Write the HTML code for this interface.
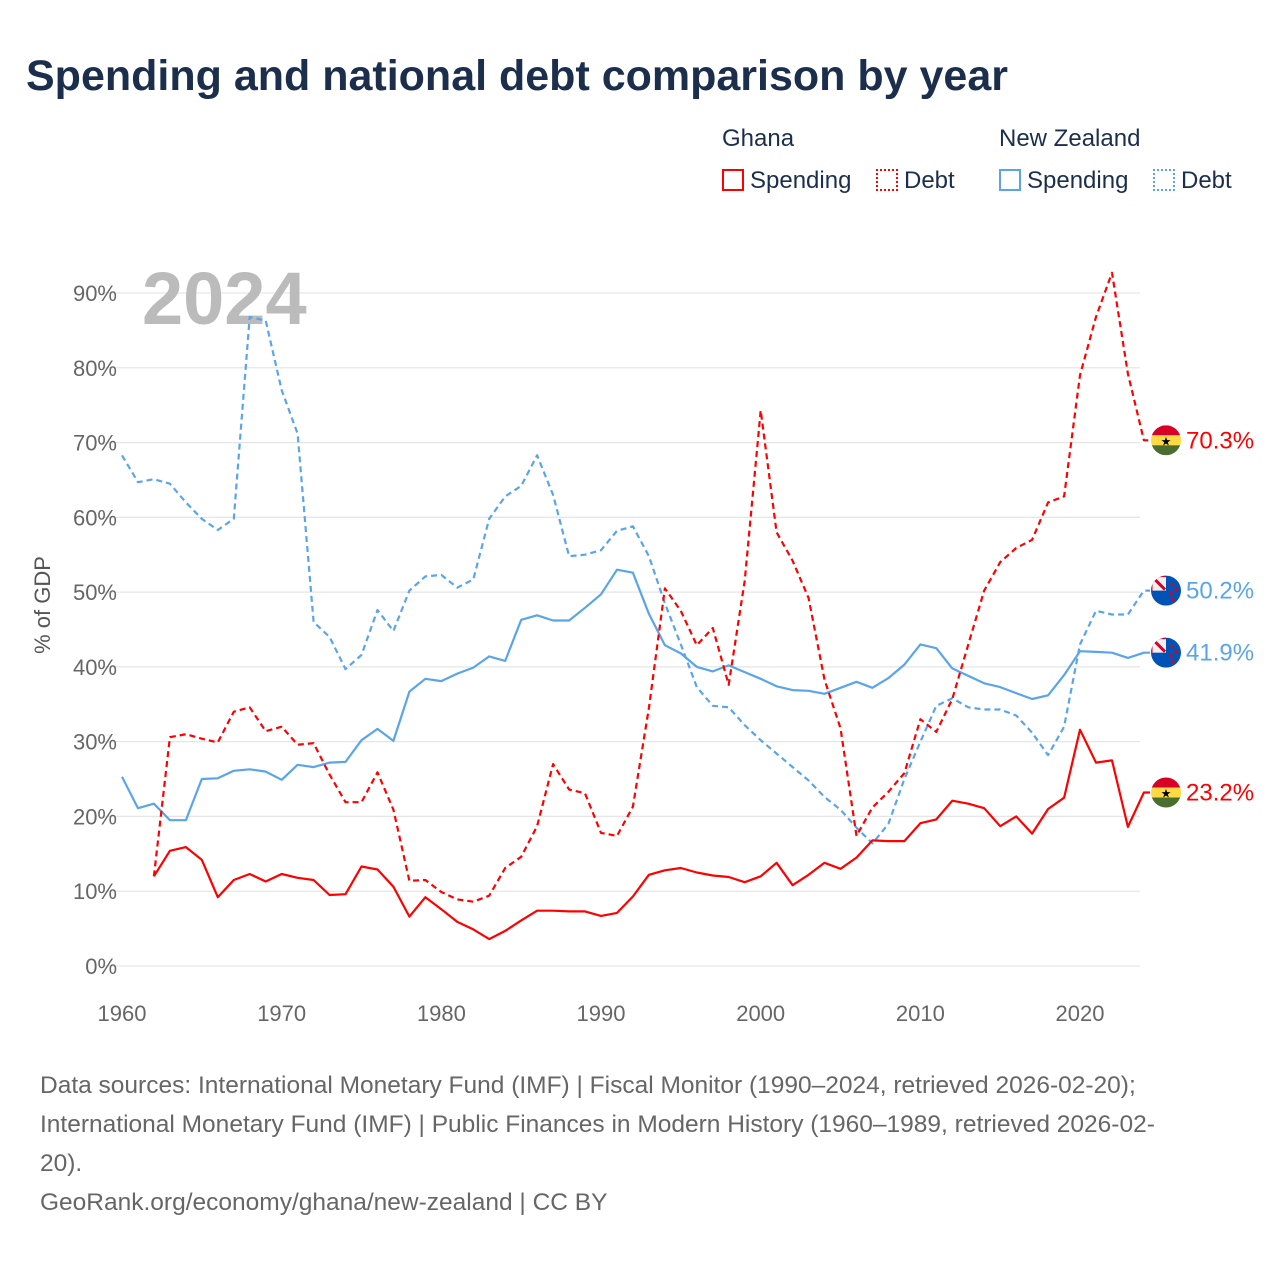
<!DOCTYPE html>
<html><head><meta charset="utf-8"><style>
body{margin:0;background:#fff;font-family:"Liberation Sans",sans-serif;}
#wrap{position:relative;width:1280px;height:1280px;overflow:hidden;}
.t{position:absolute;white-space:nowrap;}
</style></head><body>
<div id="wrap">
<div class="t" style="left:26px;top:52px;font-size:43px;font-weight:bold;color:#1b2f4d;">Spending and national debt comparison by year</div>
<div class="t" style="left:722px;top:125px;font-size:24px;color:#1b2f4d;">Ghana</div>
<div class="t" style="left:999px;top:125px;font-size:24px;color:#1b2f4d;">New Zealand</div>
<div class="t" style="left:722px;top:167px;font-size:24px;color:#1b2f4d;"><span style="display:inline-block;width:22px;height:22px;border:2px solid #f00;box-sizing:border-box;vertical-align:-3px;margin-right:6px"></span>Spending</div>
<div class="t" style="left:876px;top:167px;font-size:24px;color:#1b2f4d;"><span style="display:inline-block;width:22px;height:22px;border:2px dotted #f00;box-sizing:border-box;vertical-align:-3px;margin-right:6px"></span>Debt</div>
<div class="t" style="left:999px;top:167px;font-size:24px;color:#1b2f4d;"><span style="display:inline-block;width:22px;height:22px;border:2px solid #5aa5ea;box-sizing:border-box;vertical-align:-3px;margin-right:6px"></span>Spending</div>
<div class="t" style="left:1153px;top:167px;font-size:24px;color:#1b2f4d;"><span style="display:inline-block;width:22px;height:22px;border:2px dotted #5aa5ea;box-sizing:border-box;vertical-align:-3px;margin-right:6px"></span>Debt</div>
<svg id="chart" width="1280" height="1280" style="position:absolute;left:0;top:0"></svg>
<div class="t" style="left:40px;top:1066px;font-size:24.5px;line-height:39px;color:#666;">Data sources: International Monetary Fund (IMF) | Fiscal Monitor (1990–2024, retrieved 2026-02-20);<br>International Monetary Fund (IMF) | Public Finances in Modern History (1960–1989, retrieved 2026-02-<br>20).<br>GeoRank.org/economy/ghana/new-zealand | CC BY</div>
</div>
<script>
const yTicks=[0,10,20,30,40,50,60,70,80,90];
const xTicks=[1960,1970,1980,1990,2000,2010,2020];
const nzDebtStart=1960;
const nzDebt=[68.3,64.7,65.1,64.5,62,59.8,58.3,59.8,86.8,86.3,77,71.2,46,44,39.7,41.6,47.6,44.8,50.2,52.1,52.3,50.6,51.7,59.8,62.8,64.2,68.3,63,54.8,55,55.6,58.2,58.8,54.8,48.5,43,37.3,34.8,34.6,32.2,30.2,28.4,26.6,24.8,22.6,20.9,18.5,16.4,19,25,30,34.8,35.8,34.6,34.3,34.3,33.5,31.2,28.2,32,43,47.5,47,47,50.2];
const nzSpend=[25.3,21.1,21.7,19.5,19.5,25,25.1,26.1,26.3,26,24.9,26.9,26.6,27.2,27.3,30.2,31.7,30.1,36.7,38.4,38.1,39.1,39.9,41.4,40.8,46.3,46.9,46.2,46.2,47.9,49.7,53,52.6,47.1,42.9,41.8,40,39.4,40.2,39.3,38.4,37.4,36.9,36.8,36.4,37.2,38,37.2,38.5,40.3,43,42.5,39.8,38.8,37.8,37.3,36.5,35.7,36.2,38.9,42.1,42,41.9,41.2,41.9];
const ghStart=1962;
const ghDebt=[12,30.6,31,30.4,29.9,34,34.6,31.4,32,29.6,29.8,25.6,21.9,21.9,25.9,20.9,11.4,11.5,9.9,8.9,8.6,9.4,13.1,14.6,18.7,27,23.6,23.1,17.8,17.4,21.3,34.5,50.5,47.5,42.9,45.2,37.6,51.5,74.3,58,54.2,49.2,38.3,31.8,17.4,21.2,23.3,25.8,33,31.3,35.7,43,50.2,54,55.9,57,62,62.8,79,86.8,92.7,79.2,70.3];
const ghSpend=[12,15.4,15.9,14.2,9.2,11.5,12.3,11.3,12.3,11.8,11.5,9.5,9.6,13.3,12.9,10.6,6.6,9.2,7.6,5.9,4.9,3.6,4.7,6.1,7.4,7.4,7.3,7.3,6.7,7.1,9.3,12.2,12.8,13.1,12.5,12.1,11.9,11.2,12,13.8,10.8,12.2,13.8,13,14.5,16.8,16.7,16.7,19.1,19.6,22.1,21.7,21.1,18.7,20,17.7,21,22.5,31.6,27.2,27.5,18.6,23.2];
const NS="http://www.w3.org/2000/svg";
const svg=document.getElementById('chart');
const X=y=>122+(y-1960)*15.967;
const Y=v=>966-v*7.478;
function el(t,a,p){const e=document.createElementNS(NS,t);for(const k in a)e.setAttribute(k,a[k]);(p||svg).appendChild(e);return e;}
yTicks.forEach(v=>{
 const g=el('line',{x1:102,x2:1140,y1:Y(v),y2:Y(v),stroke:'#e6e6e6','stroke-width':1.3});
 
 
 const t=el('text',{x:117,y:Y(v)+8,'text-anchor':'end','font-size':22,fill:'#666','font-family':'Liberation Sans'});
 t.textContent=v+'%';
 
 
});
xTicks.forEach(v=>{
 const t=el('text',{x:X(v),y:1021,'text-anchor':'middle','font-size':22,fill:'#666','font-family':'Liberation Sans'});
 t.textContent=v;
 
 
});
const yt=el('text',{x:0,y:0,transform:'translate(50,605) rotate(-90)','text-anchor':'middle','font-size':22,fill:'#555','font-family':'Liberation Sans'});
yt.textContent='% of GDP';


const yr=el('text',{x:142,y:324,'font-size':74,'font-weight':'bold',fill:'#bbb','font-family':'Liberation Sans'});
yr.textContent='2024';


function series(arr,start,color,dash,name){
 let d=arr.map((v,i)=>(i?'L':'M')+X(start+i).toFixed(1)+','+Y(v).toFixed(1)).join(' ');
 d+=' L1150,'+Y(arr[arr.length-1]).toFixed(1);
 const p=el('path',{d:d,fill:'none',stroke:color,'stroke-width':2.2,'stroke-dasharray':dash||'none','stroke-linejoin':'round'});
 
 
}
series(nzDebt,nzDebtStart,'#5aa5ea','6,4','nz-debt-line');
series(nzSpend,nzDebtStart,'#5aa5ea',null,'nz-spending-line');
series(ghDebt,ghStart,'#f00','6,4','ghana-debt-line');
series(ghSpend,ghStart,'#f00',null,'ghana-spending-line');
function flag(v,gh,color,name){
 const cy=Y(v),cx=1166;
 const g=el('g',{});
 
 
 el('clipPath',{id:'c'+name},g);
 el('circle',{cx:cx,cy:cy,r:15},g.lastChild);
 const gg=el('g',{'clip-path':'url(#c'+name+')'},g);
 if(gh){
  el('rect',{x:cx-15,y:cy-15,width:30,height:10,fill:'#d80027'},gg);
  el('rect',{x:cx-15,y:cy-5,width:30,height:10,fill:'#ffda44'},gg);
  el('rect',{x:cx-15,y:cy+5,width:30,height:10,fill:'#496e2d'},gg);
  const s=el('text',{x:cx,y:cy+5,'text-anchor':'middle','font-size':12,fill:'#000'},g);s.textContent='★';
 }else{
  el('rect',{x:cx-15,y:cy-15,width:30,height:30,fill:'#0052b4'},gg);
  el('rect',{x:cx-15,y:cy-15,width:15,height:15,fill:'#f0f0f0'},gg);
  el('path',{d:`M${cx-14},${cy-14} L${cx-1},${cy-1}`,stroke:'#d80027','stroke-width':3},gg);
  el('path',{d:`M${cx-15},${cy-15} L${cx-15},${cy} M${cx-15},${cy-15} L${cx},${cy-15}`,stroke:'#d80027','stroke-width':3},gg);
  [[6,-6],[10,-1],[5,3],[7,9]].forEach(p=>el('circle',{cx:cx+p[0],cy:cy+p[1],r:1.6,fill:'#d80027'},gg));
 }
 const t=el('text',{x:1186,y:cy+8,'font-size':24,fill:color,'font-family':'Liberation Sans'});
 t.textContent=v.toFixed(1)+'%';
 
 
}
flag(ghDebt[ghDebt.length-1],true,'#f00','ghana-debt');
flag(nzDebt[nzDebt.length-1],false,'#5aa5ea','nz-debt');
flag(nzSpend[nzSpend.length-1],false,'#5aa5ea','nz-spending');
flag(ghSpend[ghSpend.length-1],true,'#f00','ghana-spending');
</script>
</body></html>
